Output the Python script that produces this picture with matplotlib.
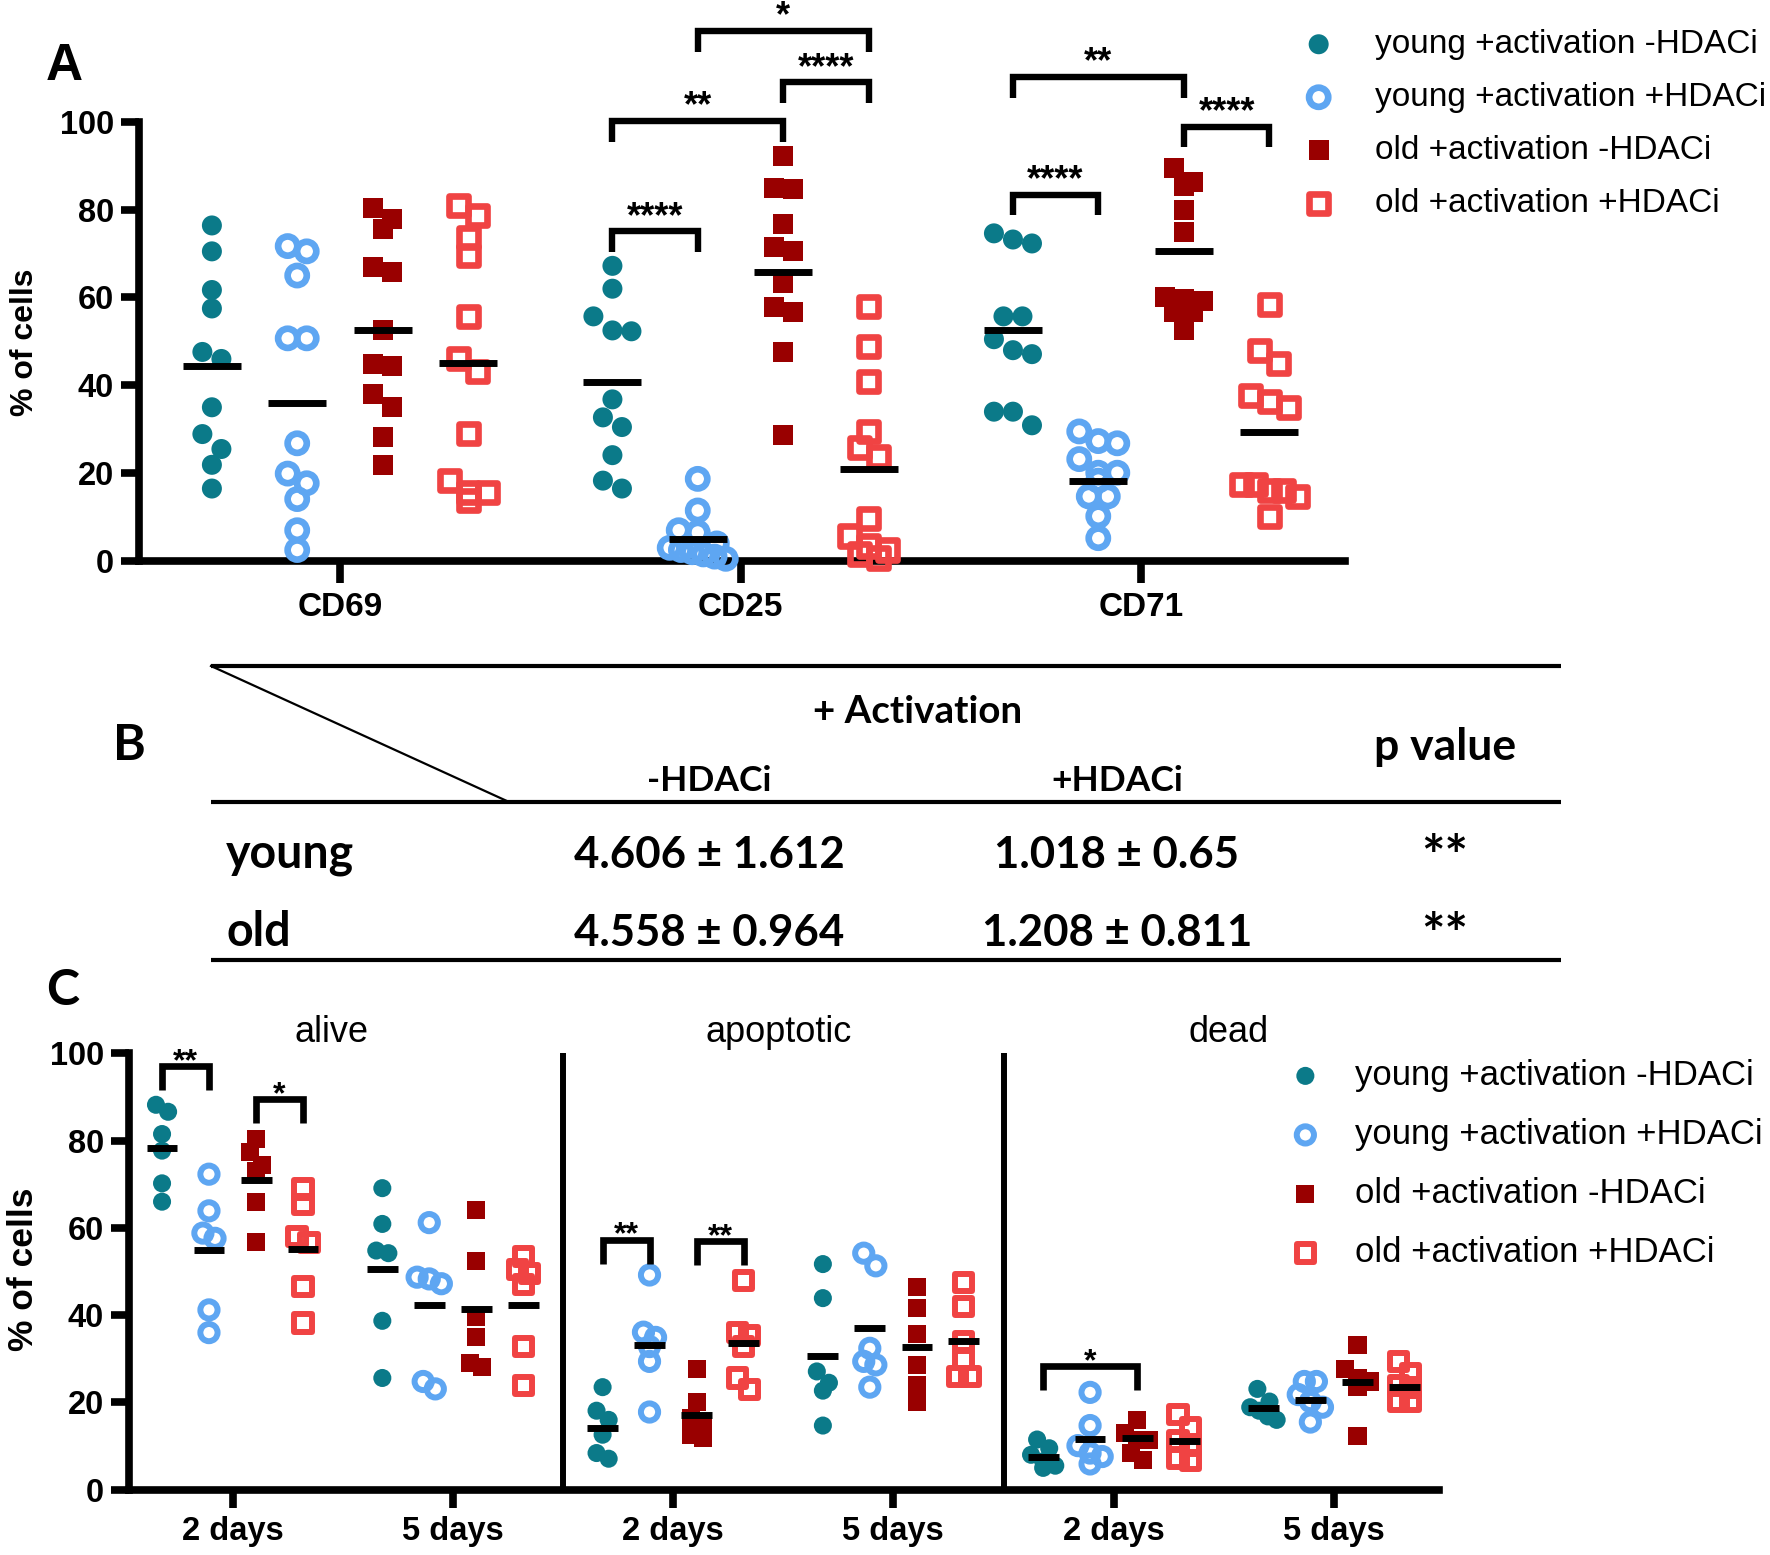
import numpy as np
import matplotlib
matplotlib.use('Agg')
import matplotlib.pyplot as plt

plt.rcParams['font.family'] = ['Liberation Sans', 'DejaVu Sans']
TABLE_FONT = ['Lato', 'DejaVu Sans']

#%% data
group_names   = ['young +activation -HDACi', 'young +activation +HDACi',
                 'old +activation -HDACi', 'old +activation +HDACi']
group_colors  = ['#0b7a89', '#5ea6f2', '#990000', '#f04343']
group_markers = ['o', 'o', 's', 's']
group_filled  = [True, False, True, False]

# panel A
a_categories = ['CD69', 'CD25', 'CD71']
cd69 = [[76.4, 70.5, 61.7, 57.5, 47.6, 46.0, 35.0, 28.9, 25.5, 21.9, 16.5],
        [71.7, 70.5, 65.0, 50.7, 50.7, 26.8, 19.9, 17.7, 14.1, 7.0, 2.5],
        [80.3, 77.9, 75.5, 66.9, 65.8, 52.5, 44.9, 44.4, 38.1, 35.0, 28.2, 21.9],
        [80.9, 78.6, 73.7, 69.6, 55.7, 46.2, 43.1, 29.1, 18.3, 15.6, 15.6, 13.8]]
cd25 = [[67.2, 62.0, 55.7, 52.5, 52.3, 36.8, 32.7, 30.5, 24.1, 18.3, 16.5],
        [18.7, 11.5, 7.0, 6.5, 4.0, 3.0, 2.5, 2.0, 1.5, 1.0, 0.5],
        [92.2, 85.0, 84.7, 76.8, 71.4, 70.5, 63.3, 57.9, 56.6, 47.6, 28.6],
        [57.9, 48.9, 40.8, 29.5, 25.9, 23.7, 9.7, 5.7, 3.4, 2.5, 1.6, 0.7]]
cd71 = [[74.6, 73.2, 72.3, 55.7, 55.7, 50.5, 48.0, 47.1, 34.0, 34.0, 30.9],
        [29.5, 27.3, 26.8, 23.2, 20.1, 20.1, 18.3, 14.7, 14.7, 10.2, 5.2],
        [89.5, 86.3, 85.4, 80.0, 75.0, 60.2, 59.7, 59.3, 56.6, 56.6, 52.5],
        [58.4, 48.0, 44.9, 37.7, 36.3, 35.0, 17.4, 17.4, 16.0, 16.0, 14.7, 10.2]]
cd69_means = [44.4, 36.0, 52.5, 45.0]
cd25_means = [40.8, 5.0, 65.9, 21.0]
cd71_means = [52.5, 18.3, 70.5, 29.3]
# (category, group1, group2, bracket top, label)
a_brackets = [(1, 0, 1, 75.1, '****'), (1, 0, 2, 100.2, '**'),
              (1, 2, 3, 109.0, '****'), (1, 1, 3, 120.7, '*'),
              (2, 0, 1, 83.4, '****'), (2, 0, 2, 110.2, '**'),
              (2, 2, 3, 98.9, '****')]

# panel B
table_rows  = ['young', 'old']
table_cols  = ['-HDACi', '+HDACi']
minus_mean  = [4.606, 4.558]
minus_sd    = [1.612, 0.964]
plus_mean   = [1.018, 1.208]
plus_sd     = [0.65, 0.811]
p_marks     = ['**', '**']

# panel C
c_panels     = ['alive', 'apoptotic', 'dead']
c_ticklabels = ['2 days', '5 days', '2 days', '5 days', '2 days', '5 days']
alive_2d = [[88.2, 86.6, 81.5, 77.7, 70.2, 66.0],
            [72.3, 63.9, 58.8, 57.6, 41.2, 36.0],
            [80.3, 77.3, 74.4, 73.1, 66.0, 56.7],
            [68.9, 65.4, 58.0, 56.7, 46.6, 38.2]]
alive_5d = [[69.1, 60.9, 54.8, 54.2, 38.7, 25.6],
            [61.2, 48.7, 48.3, 47.2, 24.8, 23.1],
            [64.0, 52.5, 39.5, 35.0, 29.0, 28.2],
            [53.4, 50.4, 49.6, 47.0, 32.8, 23.9]]
apop_2d  = [[23.5, 18.1, 16.0, 12.6, 8.4, 7.1],
            [49.2, 36.1, 34.9, 32.8, 29.4, 17.8],
            [27.7, 20.2, 16.4, 14.7, 12.6, 11.8],
            [47.9, 36.1, 35.3, 32.8, 25.6, 22.9]]
apop_5d  = [[51.7, 43.9, 27.1, 24.5, 22.7, 14.7],
            [54.2, 51.3, 32.4, 29.4, 28.6, 23.5],
            [46.4, 41.6, 35.7, 28.6, 23.9, 20.2],
            [47.5, 42.0, 34.0, 29.8, 26.0, 26.0]]
dead_2d  = [[11.5, 9.5, 8.0, 6.5, 5.5, 5.0],
            [22.3, 14.7, 10.1, 8.4, 7.6, 5.9],
            [16.0, 13.0, 11.3, 11.3, 8.4, 6.7],
            [17.2, 14.3, 11.3, 10.1, 7.1, 6.7]]
dead_5d  = [[23.1, 20.2, 18.9, 18.1, 16.8, 16.0],
            [24.8, 24.8, 21.8, 20.2, 18.9, 15.5],
            [33.2, 27.7, 25.6, 24.8, 23.5, 12.2],
            [29.4, 26.5, 23.9, 23.5, 20.2, 20.2]]
alive_2d_means = [78.3, 55.0, 71.0, 55.2]
alive_5d_means = [50.6, 42.4, 41.3, 42.4]
apop_2d_means  = [14.1, 33.2, 17.2, 33.6]
apop_5d_means  = [30.7, 37.0, 32.6, 34.0]
dead_2d_means  = [7.6, 11.6, 11.9, 11.1]
dead_5d_means  = [18.7, 20.6, 24.6, 23.5]
c_brackets = [(0, 0, 1, 97.1, '**'), (0, 2, 3, 89.5, '*'),
              (2, 0, 1, 57.3, '**'), (2, 2, 3, 57.0, '**'),
              (4, 0, 2, 28.3, '*')]

#%% helpers
W, H = 1770, 1555
GROUP_OFFS = [-0.32, -0.107, 0.107, 0.32]


def spread(vals, step, bin_h, max_half):
    # GraphPad-like spreading of points that share a value band
    vals = np.asarray(vals, float)
    order = np.argsort(-vals, kind='stable')
    offs = np.zeros(len(vals))
    bins, cur = [], [order[0]]
    for i in order[1:]:
        if vals[cur[0]] - vals[i] < bin_h:
            cur.append(i)
        else:
            bins.append(cur)
            cur = [i]
    bins.append(cur)
    for b in bins:
        n = len(b)
        st = step if n < 2 else min(step, 2 * max_half / (n - 1))
        for k, i in enumerate(b):
            offs[i] = (k - (n - 1) / 2) * st
    return offs


def draw_dots(ax, cat, data, means, step, bin_h, max_half, msize, osize, olw,
              mean_w, mean_lw):
    handles = []
    for g, vals in enumerate(data):
        x0 = cat + GROUP_OFFS[g]
        xs = x0 + spread(vals, step, bin_h, max_half)
        if group_filled[g]:
            h = ax.scatter(xs, vals, s=msize ** 2, marker=group_markers[g],
                           c=group_colors[g], edgecolors='none', clip_on=False, zorder=3)
        else:
            h = ax.scatter(xs, vals, s=osize ** 2, marker=group_markers[g],
                           facecolors='none', edgecolors=group_colors[g],
                           linewidths=olw, clip_on=False, zorder=3)
        ax.plot([x0 - mean_w / 2, x0 + mean_w / 2], [means[g], means[g]], color='k',
                lw=mean_lw, solid_capstyle='butt', zorder=4, clip_on=False)
        handles.append(h)
    return handles


def bracket(ax, cat, g1, g2, ytop, leg, label, lw, fs, off):
    x1 = cat + GROUP_OFFS[g1]
    x2 = cat + GROUP_OFFS[g2]
    ax.plot([x1, x1, x2, x2], [ytop - leg, ytop, ytop, ytop - leg], color='k', lw=lw,
            solid_joinstyle='miter', solid_capstyle='butt', clip_on=False, zorder=5)
    ax.annotate(label, xy=((x1 + x2) / 2, ytop), xytext=(0, off), textcoords='offset points',
                ha='center', va='center', fontsize=fs, fontweight='bold',
                annotation_clip=False)


def style_axes(ax, xlen, ylab_fs, xlab_fs):
    for s in ['top', 'right']:
        ax.spines[s].set_visible(False)
    for s in ['left', 'bottom']:
        ax.spines[s].set_linewidth(5.5)
    ax.tick_params(axis='both', width=5.5, direction='out', colors='k')
    ax.tick_params(axis='y', length=13, pad=5, labelsize=ylab_fs)
    ax.tick_params(axis='x', length=xlen, pad=6, labelsize=xlab_fs)
    for t in ax.get_yticklabels() + ax.get_xticklabels():
        t.set_fontweight('bold')


#%% figure
fig = plt.figure(figsize=(17.7, 15.55), dpi=100)

over = fig.add_axes([0, 0, 1, 1])
over.set_xlim(0, W)
over.set_ylim(H, 0)
over.axis('off')

# ---- panel A
axA = fig.add_axes([139 / W, 1 - 561 / H, (1345 - 139) / W, (561 - 121.8) / H])
a_data = [cd69, cd25, cd71]
a_means = [cd69_means, cd25_means, cd71_means]
for c in range(3):
    hA = draw_dots(axA, c, a_data[c], a_means[c], step=0.0475, bin_h=3.5, max_half=0.07,
                   msize=14.4, osize=13.8, olw=4.8, mean_w=0.145, mean_lw=5)
    if c == 0:
        handlesA = hA
for cat, g1, g2, ytop, lab in a_brackets:
    bracket(axA, cat, g1, g2, ytop, 4.7, lab, lw=4.6, fs=26, off=10)
axA.set_xlim(-0.502, 2.509)
axA.set_ylim(0, 100)
axA.set_yticks([0, 20, 40, 60, 80, 100])
axA.set_xticks(range(3))
axA.set_xticklabels(a_categories)
style_axes(axA, 16, 23.5, 24)
axA.set_ylabel('% of cells', fontsize=23, fontweight='bold')
axA.yaxis.set_label_coords(-0.082, 0.497)

fig.legend(handlesA, group_names, loc='upper left', bbox_to_anchor=(1302 / W, 1 - 29 / H),
           frameon=False, fontsize=24, handlelength=1.0, handletextpad=1.2,
           labelspacing=0.66, borderpad=0, borderaxespad=0, scatterpoints=1)

# ---- panel B (table)
over.plot([211, 1561], [666, 666], color='k', lw=3, solid_capstyle='butt')
over.plot([211, 1561], [801.5, 801.5], color='k', lw=3, solid_capstyle='butt')
over.plot([211, 1561], [960, 960], color='k', lw=3, solid_capstyle='butt')
over.plot([211, 508], [666, 801.5], color='k', lw=1.6)
over.text(918, 722.7, '+ Activation', ha='center', va='baseline', fontsize=27.7,
          fontweight='bold', family=TABLE_FONT)
over.text(1445, 760, 'p value', ha='center', va='baseline', fontsize=32,
          fontweight='bold', family=TABLE_FONT)
col_x = [709, 1117]
for x, lab in zip(col_x, table_cols):
    over.text(x, 790.7, lab, ha='center', va='baseline', fontsize=25.5,
              fontweight='bold', family=TABLE_FONT)
row_base = [868, 946]
for i, lab in enumerate(table_rows):
    y = row_base[i]
    over.text(226, y, lab, ha='left', va='baseline', fontsize=33.5,
              fontweight='bold', family=TABLE_FONT)
    over.text(col_x[0], y, f'{minus_mean[i]} \u00b1 {minus_sd[i]}', ha='center',
              va='baseline', fontsize=31.5, fontweight='bold', family=TABLE_FONT)
    over.text(col_x[1], y, f'{plus_mean[i]} \u00b1 {plus_sd[i]}', ha='center',
              va='baseline', fontsize=31.5, fontweight='bold', family=TABLE_FONT)
    over.text(1445, y + 7, p_marks[i], ha='center', va='baseline', fontsize=40,
              fontweight='bold', family=TABLE_FONT)

# ---- panel C
axC = fig.add_axes([129 / W, 1 - 1489.7 / H, (1439 - 129) / W, (1489.7 - 1053.3) / H])
c_data = [alive_2d, alive_5d, apop_2d, apop_5d, dead_2d, dead_5d]
c_means = [alive_2d_means, alive_5d_means, apop_2d_means, apop_5d_means,
           dead_2d_means, dead_5d_means]
for c in range(6):
    hC = draw_dots(axC, c, c_data[c], c_means[c], step=0.055, bin_h=3.0, max_half=0.06,
                   msize=13.0, osize=12.4, olw=4.3, mean_w=0.14, mean_lw=5)
    if c == 0:
        handlesC = hC
for k in (1, 2):
    axC.plot([2 * k - 0.5, 2 * k - 0.5], [0, 100], color='k', lw=4.3,
             solid_capstyle='butt', zorder=2)
for cat, g1, g2, ytop, lab in c_brackets:
    bracket(axC, cat, g1, g2, ytop, 5.5, lab, lw=4.8, fs=23, off=3)
for x, lab in zip([0.45, 2.48, 4.52], c_panels):
    axC.text(x, 102.6, lab, ha='center', va='baseline', fontsize=26, clip_on=False)
axC.set_xlim(-0.47, 5.477)
axC.set_ylim(0, 100)
axC.set_yticks([0, 20, 40, 60, 80, 100])
axC.set_xticks(range(6))
axC.set_xticklabels(c_ticklabels)
style_axes(axC, 13, 23.5, 23.5)
axC.set_ylabel('% of cells', fontsize=25.5, fontweight='bold')
axC.yaxis.set_label_coords(-0.068, 0.505)

fig.legend(handlesC, group_names, loc='upper left', bbox_to_anchor=(1288 / W, 1 - 1059 / H),
           frameon=False, fontsize=25, handlelength=1.0, handletextpad=0.94,
           labelspacing=0.75, borderpad=0, borderaxespad=0, scatterpoints=1)

# ---- panel letters
over.text(64.5, 80, 'A', ha='center', va='baseline', fontsize=37, fontweight='bold')
over.text(129, 760, 'B', ha='center', va='baseline', fontsize=36, fontweight='bold',
          family=TABLE_FONT)
over.text(62.5, 1005, 'C', ha='center', va='baseline', fontsize=36, fontweight='bold',
          family=TABLE_FONT)

fig.savefig('out.png', dpi=100)
